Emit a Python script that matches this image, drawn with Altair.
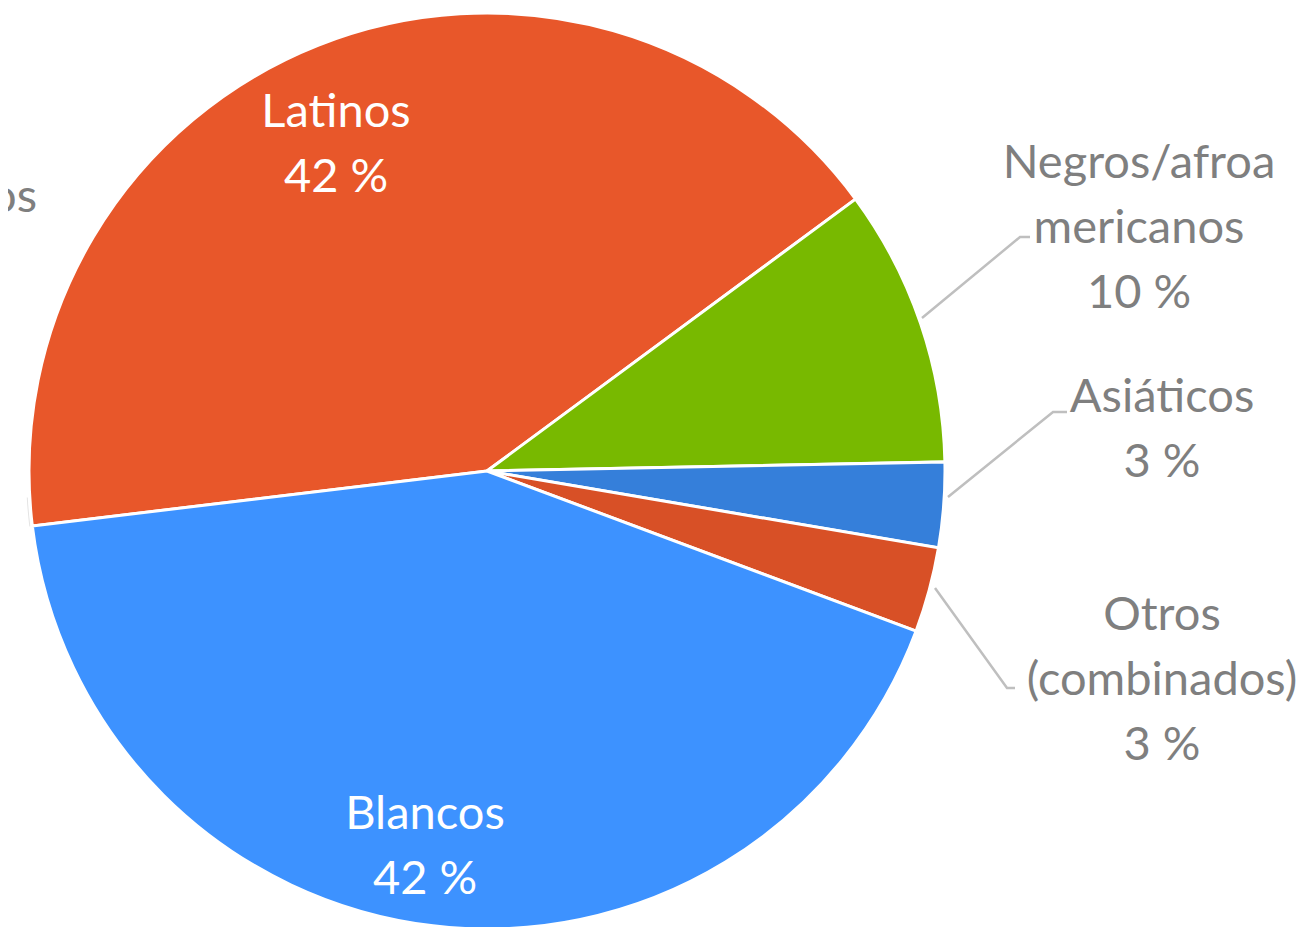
import math
import altair as alt
import pandas as pd

# ---- data ----
categories = ["Latinos", "Negros/afroamericanos", "Asiáticos", "Otros (combinados)", "Blancos"]
display_lines = [["Latinos"], ["Negros/afroa", "mericanos"], ["Asiáticos"], ["Otros", "(combinados)"], ["Blancos"]]
shares = [41.8, 9.8, 3.0, 3.0, 42.4]
colors = ["#E8572A", "#78B900", "#357FDA", "#D85026", "#3D92FF"]

# ---- layout (pixel positions within the chart) ----
W, H = 1299, 919
CX, CY, R = 479, 463, 458
start_deg = 263.1
label_x = [328, 1131, 1154, 1154, 417]
label_y = [119, 170, 404, 622, 821]          # baseline of first line
label_inside = [True, False, False, False, True]
leader_pts = {  # slice index -> list of (x, y)
    1: [(914, 310), (1012, 229), (1022, 229)],
    2: [(940, 489), (1045, 404), (1059, 404)],
    3: [(927, 580), (999, 680), (1007, 680)],
}

df = pd.DataFrame({"cat": categories, "share": shares, "order": range(len(categories))})

start = math.radians(start_deg)
pie = alt.Chart(df).mark_arc(outerRadius=R, stroke="white", strokeWidth=3).encode(
    theta=alt.Theta("share:Q", stack=True, scale=alt.Scale(range=[start, start + 2 * math.pi])),
    color=alt.Color("cat:N", scale=alt.Scale(domain=categories, range=colors), legend=None),
    order=alt.Order("order:Q"),
    x=alt.value(CX),
    y=alt.value(CY),
)

ring = alt.Chart(pd.DataFrame({"v": [1]})).mark_arc(
    outerRadius=R + 3, innerRadius=R + 2, fill="#E4E4E4"
).encode(theta=alt.Theta("v:Q"), x=alt.value(CX), y=alt.value(CY))

lab = pd.DataFrame({
    "text": ["\n".join(lines + [f"{round(s):d} %"]) for lines, s in zip(display_lines, shares)],
    "px": label_x,
    "py": label_y,
    "inside": label_inside,
})

def label_layer(sub, color):
    return alt.Chart(sub).mark_text(
        font="Lato", fontSize=47, align="center", baseline="alphabetic",
        lineHeight=65, lineBreak="\n", color=color,
    ).encode(
        x=alt.X("px:Q", scale=None),
        y=alt.Y("py:Q", scale=None),
        text="text:N",
    )

inside_labels = label_layer(lab[lab["inside"]], "white")
outside_labels = label_layer(lab[~lab["inside"]], "#7F7F7F")

# cut-off label at the left edge (as in the reference)
edge = alt.Chart(pd.DataFrame({"text": ["os"], "px": [29], "py": [204]})).mark_text(
    font="Lato", fontSize=47, align="right", baseline="alphabetic", color="#7F7F7F"
).encode(x=alt.X("px:Q", scale=None), y=alt.Y("py:Q", scale=None), text="text:N")

rows = []
for k, pts in leader_pts.items():
    for j, (x, y) in enumerate(pts):
        rows.append({"slice": categories[k], "j": j, "px": x, "py": y})
leaders = alt.Chart(pd.DataFrame(rows)).mark_line(color="#BFBFBF", strokeWidth=2.5).encode(
    x=alt.X("px:Q", scale=None),
    y=alt.Y("py:Q", scale=None),
    detail="slice:N",
    order="j:Q",
)

chart = alt.layer(ring, pie, leaders, inside_labels, outside_labels, edge).properties(
    width=W, height=H, autosize=alt.AutoSizeParams(type="none"), padding=0,
    background="white",
).configure_view(stroke=None)

chart.save("out.html", embed_options={"renderer": "svg", "actions": False})
